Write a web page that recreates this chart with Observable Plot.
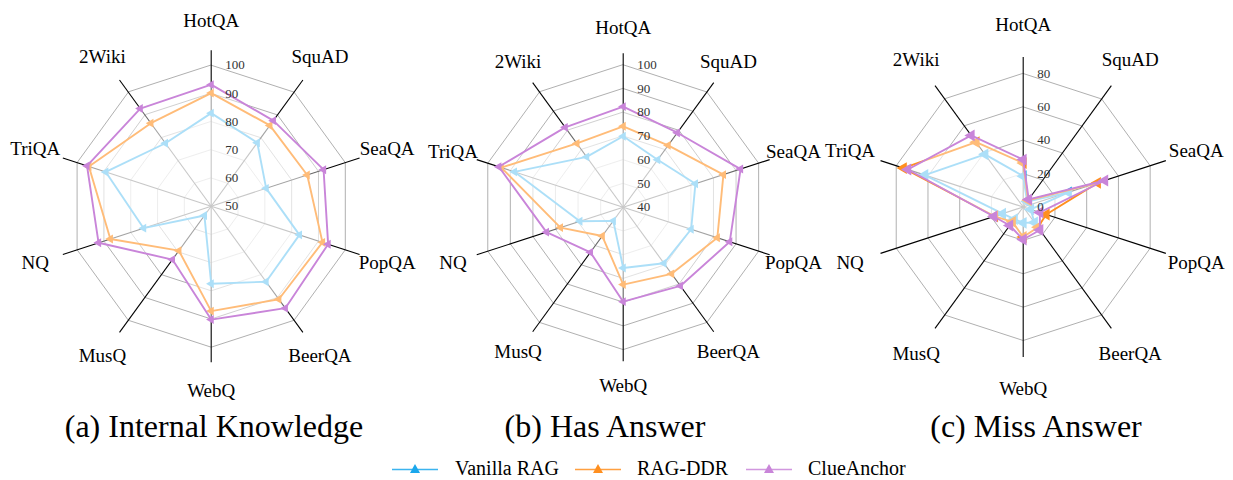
<!DOCTYPE html>
<html>
<head>
<meta charset="utf-8">
<script src="https://cdn.jsdelivr.net/npm/d3@7"></script>
<script src="https://cdn.jsdelivr.net/npm/@observablehq/plot@0.6"></script>
<style>
  body { margin: 0; background: #fff; }
  #root { position: relative; width: 1233px; height: 480px; overflow: hidden; font-family: "Liberation Serif", serif; }
  .panel { position: absolute; top: 0; }
  .title { position: absolute; width: 400px; text-align: center; font-size: 32px; line-height: 32px; color: #000; }
  .leg { position: absolute; font-size: 20px; line-height: 20px; color: #000; white-space: nowrap; }
</style>
</head>
<body>
<div id="root"></div>
<script>
// ---------- data ----------
const categories = ["HotQA", "SquAD", "SeaQA", "PopQA", "BeerQA", "WebQ", "MusQ", "NQ", "TriQA", "2Wiki"];
const seriesNames = ["Vanilla RAG", "RAG-DDR", "ClueAnchor"];
const seriesColors = ["#1aa7ec", "#ff8f1f", "#c985d9"];
const panelTitles = ["(a) Internal Knowledge", "(b) Has Answer", "(c) Miss Answer"];

const ticksA = [50, 60, 70, 80, 90, 100];
const ticksB = [40, 50, 60, 70, 80, 90, 100];
const ticksC = [0, 20, 40, 60, 80];

// (a) Internal Knowledge
const vanillaA = [83.0, 77.8, 70.5, 82.9, 83.1, 77.5, 54.1, 75.2, 89.3, 77.6];
const ddrA     = [90.1, 85.4, 85.8, 91.5, 90.8, 87.2, 69.5, 87.6, 95.6, 86.4];
const clueA    = [93.1, 87.5, 91.9, 93.6, 94.7, 90.2, 73.4, 92.0, 96.3, 92.8];
// (b) Has Answer
const vanillaB = [69.9, 64.7, 72.0, 70.1, 69.2, 65.6, 47.1, 59.2, 88.2, 66.2];
const ddrB     = [74.1, 72.2, 84.4, 81.7, 74.7, 72.6, 55.0, 67.8, 94.0, 73.2];
const clueB    = [82.4, 78.8, 92.0, 87.2, 81.0, 79.8, 63.5, 74.0, 95.1, 81.6];
// (c) Miss Answer
const vanillaC = [18.5, 4.0, 28.5, 4.7, 11.5, 9.5, 9.0, 13.0, 62.0, 39.0];
const ddrC     = [26.3, 5.0, 46.8, 14.5, 15.0, 18.0, 11.0, 18.0, 75.5, 48.0];
const clueC    = [28.4, 5.6, 51.4, 10.5, 17.0, 19.5, 13.7, 18.5, 72.7, 53.0];

// ---------- layout ----------
const PW = 411, PH = 400;
const panels = [
  {left: 0,   cx: 210.7, cy: 205.7, R: 141.0, axisLen: 156, labelR: 185, ticks: ticksA, values: [vanillaA, ddrA, clueA], mr: 3.3, titleX: 214},
  {left: 411, cx: 211.7, cy: 206.7, R: 142.4, axisLen: 154, labelR: 179, ticks: ticksB, values: [vanillaB, ddrB, clueB], mr: 3.3, titleX: 605},
  {left: 822, cx: 200.7, cy: 206.5, R: 133.5, axisLen: 150, labelR: 182, ticks: ticksC, values: [vanillaC, ddrC, clueC], mr: 4.4, titleX: 1036}
];

// left-pointing triangle symbol
const triLeft = {
  draw(ctx, size) {
    const s = Math.sqrt(size / (Math.sqrt(3) / 4));
    const h = s * Math.sqrt(3) / 2;
    ctx.moveTo(-h * 2 / 3, 0);
    ctx.lineTo(h / 3, -s / 2);
    ctx.lineTo(h / 3, s / 2);
    ctx.closePath();
  }
};

const root = document.getElementById("root");
const n = categories.length;
const ang = i => i * 2 * Math.PI / n;
const pt = (i, r) => ({x: r * Math.sin(ang(i)), y: -r * Math.cos(ang(i))});

panels.forEach((p, pi) => {
  const rs = d3.scaleLinear().domain([p.ticks[0], p.ticks[p.ticks.length - 1]]).range([0, p.R]);
  const rings = p.ticks.filter(t => rs(t) > 0).flatMap(t => categories.map((c, i) => ({t, ...pt(i, rs(t))})));
  const axes = categories.map((c, i) => { const e = pt(i, p.axisLen); return {x1: 0, y1: 0, x2: e.x, y2: e.y}; });
  const labels = categories.map((c, i) => ({c, ...pt(i, p.labelR)}));
  const tickLabels = p.ticks.map(t => ({t, x: 0, y: -rs(t)}));

  const marks = [
    Plot.line(rings, {x: "x", y: "y", z: "t", curve: "linear-closed", stroke: "#b0b0b0", strokeWidth: 1}),
    Plot.link(axes, {x1: "x1", y1: "y1", x2: "x2", y2: "y2", stroke: "#000", strokeWidth: 1.1})
  ];
  p.values.forEach((vals, s) => {
    const pts = vals.map((v, i) => ({s: seriesNames[s], c: categories[i], v, ...pt(i, rs(v))}));
    marks.push(
      Plot.line(pts, {x: "x", y: "y", curve: "linear-closed", fill: "white", fillOpacity: 0.4, stroke: "none"}),
      Plot.line(pts, {x: "x", y: "y", curve: "linear-closed", stroke: seriesColors[s], strokeWidth: 1.9}),
      Plot.dot(pts, {x: "x", y: "y", symbol: triLeft, r: p.mr, fill: seriesColors[s], stroke: "none"})
    );
  });
  marks.push(
    Plot.text(tickLabels, {x: "x", y: "y", text: d => String(d.t), dx: 14, textAnchor: "start", lineAnchor: "middle",
      fontFamily: "Liberation Serif", fontSize: 13, fill: "#333"}),
    Plot.text(labels, {x: "x", y: "y", text: "c", textAnchor: "middle", lineAnchor: "middle",
      fontFamily: "Liberation Serif", fontSize: 19, fill: "#000"})
  );

  const chart = Plot.plot({
    width: PW, height: PH, margin: 0,
    x: {domain: [-p.cx, PW - p.cx], range: [0, PW], axis: null},
    y: {domain: [-p.cy, PH - p.cy], range: [0, PH], axis: null},
    style: {overflow: "visible", background: "transparent"},
    marks
  });
  const div = document.createElement("div");
  div.className = "panel";
  div.style.left = p.left + "px";
  div.appendChild(chart);
  root.appendChild(div);

  const t = document.createElement("div");
  t.className = "title";
  t.style.left = (p.titleX - 200) + "px";
  t.style.top = "410px";
  t.textContent = panelTitles[pi];
  root.appendChild(t);
});

// ---------- legend ----------
const legendLineX = [392, 575, 746];
const legendTextX = [455, 637, 808];
const legendY = 468;
seriesNames.forEach((name, s) => {
  const ns = "http://www.w3.org/2000/svg";
  const svg = document.createElementNS(ns, "svg");
  svg.setAttribute("width", 46); svg.setAttribute("height", 12);
  svg.style.position = "absolute";
  svg.style.left = legendLineX[s] + "px";
  svg.style.top = (legendY - 6) + "px";
  const ln = document.createElementNS(ns, "line");
  ln.setAttribute("x1", 0); ln.setAttribute("x2", 46); ln.setAttribute("y1", 7.5); ln.setAttribute("y2", 7.5);
  ln.setAttribute("stroke", seriesColors[s]); ln.setAttribute("stroke-width", 1.3); ln.setAttribute("stroke-opacity", 0.85);
  const tri = document.createElementNS(ns, "polygon");
  tri.setAttribute("points", "18,11 28,11 23,2");
  tri.setAttribute("fill", seriesColors[s]);
  svg.appendChild(ln); svg.appendChild(tri);
  root.appendChild(svg);
  const tx = document.createElement("div");
  tx.className = "leg";
  tx.style.left = legendTextX[s] + "px";
  tx.style.top = (legendY - 10) + "px";
  tx.textContent = name;
  root.appendChild(tx);
});
</script>
</body>
</html>
